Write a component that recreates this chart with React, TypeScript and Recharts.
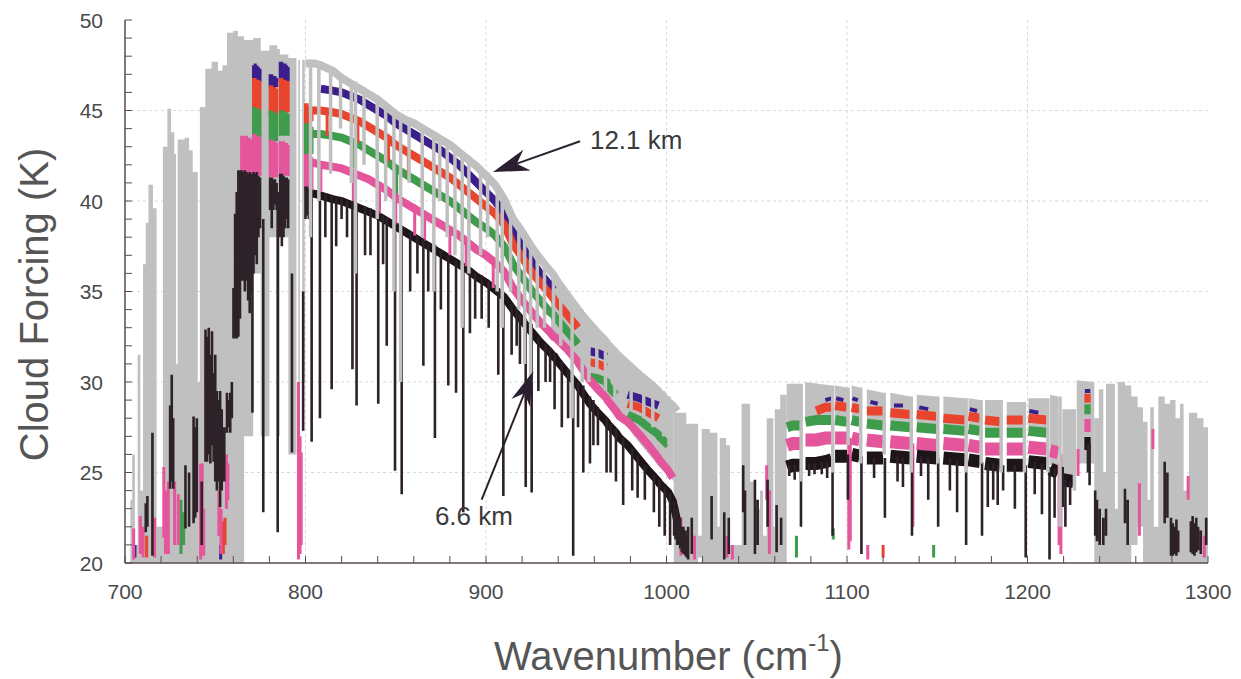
import React from "react";
import { ComposedChart, Line, Area, XAxis, YAxis, CartesianGrid, ReferenceLine, ReferenceDot } from "recharts";

type Seg = [number, number, number];
type Rng = [number, number | null, number | null];
type Row = (number | null)[];

// ---------- axis ticks ----------
const xMajorTicks = [700, 800, 900, 1000, 1100, 1200, 1300];
const xMinorTicks = [700, 720, 740, 760, 780, 800, 820, 840, 860, 880, 900, 920, 940, 960, 980, 1000, 1020, 1040, 1060, 1080, 1100, 1120, 1140, 1160, 1180, 1200, 1220, 1240, 1260, 1280, 1300];
const yMajorTicks = [20, 25, 30, 35, 40, 45, 50];
const yMinorTicks = [20, 21, 22, 23, 24, 25, 26, 27, 28, 29, 30, 31, 32, 33, 34, 35, 36, 37, 38, 39, 40, 41, 42, 43, 44, 45, 46, 47, 48, 49, 50];
const xGridValues = [800, 900, 1000, 1100, 1200];
const yGridValues = [25, 30, 35, 40, 45];

// ---------- dense gray (12.1 km) regions: [wavenumber, low, high] ----------
const grayDenseCO2: Rng[] = [
  [700, 20, 20], [703, 20, 23.5], [704, 20, 26], [705.5, 20, 21], [707, 20, 31.5], [708.5, 20, 24],
  [710, 20, 36.5], [711.5, 20, 38.8], [713, 20, 40.9], [715.5, 20, 39.6], [717.5, 20, 22],
  [721, 20, 43.0], [723.5, 20, 45.1], [725.5, 20, 43.8], [727.3, 20, 42.6], [728.3, 20, 31],
  [729.2, 20, 43.4], [733, 20, 43.5], [735.5, 20, 42.8], [737.5, 20, 41.6], [740.3, 20, 30],
  [741.5, 20, 45.2], [744.5, 20, 47.3], [748, 20, 47.7], [751.5, 20, 47.2], [754, 20, 47.5],
  [756.5, 20, 49.3], [760, 20, 49.4], [762.5, 20, 49.1], [766, 27, 48.9], [771, 36, 49.0],
  [775.2, 27, 48.3], [780, 38, 48.6], [784.3, 27, 48.4], [785.8, 38, 48.1], [790.5, 26, 47.9],
  [795, 20, 20], [796, 27, 47.8], [796.9, 20, 20], [798.2, 30, 47.8], [799.6, 20, 20],
];
const grayDenseO3: Rng[] = [
  [1004, 20, 28.3], [1011, 20, 27.7], [1017.5, 20.3, 21.5], [1019.5, 20, 27.4], [1024, 20, 27.2],
  [1028.2, 20, 22], [1029.5, 20, 26.9], [1033, 20, 26.5], [1035.2, 20, 21], [1041.6, 20, 28.8],
  [1046.3, 20, 24.5], [1049, 20, 23.0], [1051.8, 20, 24.0], [1053.5, 20, 21.5], [1055.5, 20, 28.0],
  [1059.2, 20, 22], [1060, 20, 28.5], [1063, 20, 29.3], [1066.6, 20, 20],
];
const grayDenseEdge: Rng[] = [
  [1237, 20, 28.0], [1239.5, 20, 29.6], [1242, 20, 25.0], [1243.5, 20, 29.9], [1248.5, 20, 23.0],
  [1250, 20, 30.0], [1254, 20, 29.8], [1257.5, 21, 29.2], [1261, 22, 28.6], [1264, 20, 27.8],
  [1266.5, 20, 23.5], [1268, 20, 28.6], [1270, 20, 22.0], [1272.5, 20, 29.2], [1276, 20, 28.8],
  [1279, 20, 29.0], [1282, 20, 28.0], [1284.5, 20, 28.8], [1286.5, 20, 24.0], [1289.5, 20, 28.3],
  [1294, 20, 28.0], [1297.5, 20, 27.5], [1300, 20, 27.5],
];
// gray band between gray top and coloured curves: [wavenumber, low, high]
const grayBandFill: Rng[] = [
  [936, 32.8, 36.0], [940, 32.3, 35.6], [945, 31.8, 35.0], [951, 31.1, 34.2], [957, 30.2, 33.4],
  [962, 29.6, 32.9], [967, 29.0, 32.3], [972, 28.4, 31.8], [977, 27.8, 31.3], [982, 27.0, 30.8],
  [987, 26.4, 30.4], [992, 25.8, 30.0], [996, 25.3, 29.6], [1000, 25.0, 29.2], [1004, 24.5, 28.8],
  [1004.5, null, null],
  [1066.6, 27.6, 29.9], [1074, 27.7, 29.9], [1074.3, null, null],
  [1076.8, 27.9, 30.0], [1091.5, 28.0, 29.8], [1091.8, null, null],
  [1093.4, 28.0, 29.8], [1100, 27.9, 29.7], [1100.3, null, null],
  [1102.6, 28.0, 29.8], [1107, 27.9, 29.7], [1107.3, null, null],
  [1111, 27.8, 29.6], [1120, 27.7, 29.4], [1120.3, null, null],
  [1124, 27.7, 29.4], [1135, 27.6, 29.2], [1135.3, null, null],
  [1138.6, 27.6, 29.3], [1149.7, 27.5, 29.2], [1150, null, null],
  [1153.4, 27.5, 29.2], [1165.4, 27.4, 29.1], [1165.7, null, null],
  [1167.3, 27.5, 29.1], [1173.7, 27.4, 29.0], [1174, null, null],
  [1176.5, 27.3, 29.0], [1184.8, 27.3, 29.0], [1185.1, null, null],
  [1188.5, 27.3, 28.9], [1197.7, 27.3, 28.9], [1198, null, null],
  [1200.5, 27.4, 29.1], [1210.7, 27.3, 29.1], [1211, null, null],
  [1212.5, 25.4, 29.3], [1217, 25.4, 29.2], [1217.3, null, null],
  [1219.3, 24.8, 28.5], [1225.5, 24.8, 28.5], [1225.8, null, null],
  [1227.3, 25.5, 30.1], [1237, 25.5, 30.0],
];

// ---------- window 800-1006: [wavenumber, gray, blue, red, green, pink, black] ----------
const bandsWindow1: Row[] = [
  [800, 47.6, null, 45.0, 43.7, 42.1, 40.4],
  [805, 47.6, null, 45.0, 43.7, 42.1, 40.4],
  [808.5, 47.5, 46.2, 45.0, 43.7, 42.0, 40.3],
  [815, 47.2, 46.1, 44.9, 43.6, 41.9, 40.1],
  [820, 46.8, 46.0, 44.8, 43.5, 41.8, 40.0],
  [825, 46.5, 45.8, 44.6, 43.3, 41.6, 39.8],
  [830, 46.2, 45.6, 44.4, 43.1, 41.4, 39.6],
  [835, 45.9, 45.3, 44.1, 42.8, 41.2, 39.4],
  [840, 45.6, 45.0, 43.8, 42.5, 40.9, 39.2],
  [845, 45.2, 44.7, 43.5, 42.2, 40.6, 38.9],
  [850, 44.8, 44.3, 43.1, 41.8, 40.2, 38.6],
  [855, 44.5, 44.0, 42.8, 41.5, 39.9, 38.3],
  [860, 44.3, 43.7, 42.5, 41.2, 39.6, 38.0],
  [865, 44.0, 43.4, 42.2, 40.9, 39.3, 37.7],
  [870, 43.7, 43.1, 41.9, 40.6, 39.0, 37.4],
  [875, 43.4, 42.8, 41.6, 40.3, 38.7, 37.1],
  [880, 43.1, 42.4, 41.3, 40.0, 38.4, 36.8],
  [885, 42.7, 42.0, 40.9, 39.6, 38.1, 36.5],
  [890, 42.3, 41.5, 40.5, 39.2, 37.7, 36.2],
  [895, 41.9, 41.0, 40.1, 38.8, 37.3, 35.8],
  [900, 41.4, 40.5, 39.7, 38.5, 37.0, 35.5],
  [905, 40.9, 40.0, 39.3, 38.1, 36.6, 35.1],
  [910, 40.1, 39.3, 38.7, 37.5, 36.1, 34.7],
  [915, 39.0, 38.3, 37.6, 36.5, 35.2, 34.0],
  [920, 38.3, 37.5, 36.9, 35.8, 34.5, 33.4],
  [925, 37.5, 36.7, 36.1, 35.1, 33.9, 32.8],
  [930, 36.8, 36.0, 35.5, 34.5, 33.3, 32.2],
  [935, 36.2, 35.4, 34.9, 33.9, 32.8, 31.7],
  [937.5, 35.9, 35.1, 34.6, 33.7, 32.5, 31.4],
  [938, 35.8, null, 34.5, 33.6, 32.5, 31.4],
  [940, 35.5, null, 34.3, 33.4, 32.3, 31.1],
  [945, 34.8, null, 33.7, 32.8, 31.8, 30.5],
  [951, 34.0, null, 33.0, 32.1, 31.1, 29.8],
  [951.5, 33.9, null, null, null, 31.0, 29.7],
  [957.6, 33.2, 31.7, 31.1, 30.3, 30.1, 28.8],
  [962, 32.7, 31.6, 31.0, 30.2, 29.6, 28.3],
  [966.8, 32.2, 31.4, 30.8, 30.0, 29.1, 27.8],
  [967.3, 32.1, null, null, 29.8, 29.0, 27.7],
  [972, 31.6, null, null, 29.3, 28.4, 27.2],
  [974, 31.4, null, null, null, 28.1, 26.9],
  [978.5, 31.0, 29.3, 28.8, 28.2, 27.8, 26.5],
  [985, 30.4, 29.1, 28.6, 27.9, 27.1, 25.7],
  [990, 30.0, 28.9, 28.3, 27.5, 26.5, 25.1],
  [995.5, 29.5, 28.7, 28.0, 27.1, 25.8, 24.5],
  [996, 29.4, null, null, 27.0, 25.7, 24.4],
  [1001, 28.9, null, null, 26.5, 25.1, 23.9],
  [1003.5, 28.7, null, null, null, 24.7, 23.4],
  [1006, 28.4, null, null, null, null, 22.3],
];

// ---------- window 1066-1236: [wavenumber, red, green, pink, black] ----------
const bandsWindow2: Row[] = [
  [1066.8, null, 27.5, 26.5, 25.3], [1070, null, 27.6, 26.6, 25.4], [1074, null, 27.6, 26.6, 25.4],
  [1074.3, null, null, null, null],
  [1077, null, 27.8, 26.8, 25.5], [1083, 28.4, 27.9, 26.8, 25.5], [1088, 28.6, 27.9, 26.9, 25.6], [1091.5, 28.6, 27.9, 26.9, 25.7],
  [1091.8, null, null, null, null],
  [1093.4, 28.7, 27.9, 26.9, 25.9], [1100, 28.6, 27.8, 26.9, 25.9],
  [1100.3, null, null, null, null],
  [1102.6, 28.6, 27.9, 26.9, 26.0], [1107, 28.5, 27.8, 26.8, 25.9],
  [1107.3, null, null, null, null],
  [1111, 28.4, 27.7, 26.8, 25.8], [1120, 28.4, 27.6, 26.7, 25.8],
  [1120.3, null, null, null, null],
  [1124, 28.3, 27.6, 26.7, 25.9], [1135, 28.2, 27.5, 26.6, 25.8],
  [1135.3, null, null, null, null],
  [1138.6, 28.2, 27.5, 26.6, 25.9], [1149.7, 28.1, 27.4, 26.5, 25.8],
  [1150, null, null, null, null],
  [1153.4, 28.0, 27.4, 26.6, 25.8], [1165.4, 27.9, 27.3, 26.5, 25.7],
  [1165.7, null, null, null, null],
  [1167.3, 28.1, 27.4, 26.5, 25.7], [1173.7, 28.0, 27.3, 26.4, 25.6],
  [1174, null, null, null, null],
  [1176.5, 27.9, 27.2, 26.3, 25.5], [1184.8, 27.8, 27.2, 26.3, 25.4],
  [1185.1, null, null, null, null],
  [1188.5, 27.9, 27.2, 26.3, 25.4], [1197.7, 27.9, 27.2, 26.3, 25.4],
  [1198, null, null, null, null],
  [1200.5, 28.0, 27.3, 26.4, 25.6], [1210.7, 27.9, 27.2, 26.3, 25.5],
  [1211, null, null, null, null],
  [1212.5, null, null, 26.2, 25.2], [1217, null, null, 26.1, 25.0],
  [1217.3, null, null, null, null],
  [1219.5, null, null, null, 24.6], [1225.5, null, null, null, 24.5],
  [1225.8, null, null, null, null],
  [1231.5, 29.1, 28.5, 27.6, 26.6], [1235, 29.1, 28.5, 27.6, 26.6],
];
// sparse blue (12.1 km neighbour) specks in window 2: [wavenumber, value]
const blueWindow2: Row[] = [
  [1088, 29.0], [1091.3, 29.1], [1091.6, null],
  [1094, 29.1], [1098, 29.0], [1098.3, null],
  [1103, 29.1], [1106, 29.0], [1106.3, null],
  [1113, 28.9], [1117, 28.8], [1117.3, null],
  [1126, 28.7], [1131, 28.7], [1131.3, null],
  [1140, 28.6], [1145, 28.5], [1145.3, null],
  [1168, 28.5], [1172, 28.4], [1172.3, null],
  [1201, 28.4], [1206, 28.3], [1206.3, null],
  [1231.8, 29.5], [1234.8, 29.5],
];

// ---------- vertical absorption-line strokes: [wavenumber, top, bottom] ----------
const blueLines: Seg[] = [
  [705.5, 21.0, 20.3], [753.0, 21.0, 20.2],
  [771.2, 47.5, 46.6], [772.1, 47.6, 46.6], [773.0, 47.5, 46.6], [773.9, 47.4, 46.6], [774.8, 47.3, 46.6],
  [780.4, 47.0, 46.3], [781.3, 47.0, 46.3], [782.2, 46.9, 46.3], [783.1, 46.9, 46.3], [784.0, 46.8, 46.3],
  [786.0, 47.7, 46.6], [786.9, 47.7, 46.6], [787.8, 47.6, 46.6], [788.7, 47.6, 46.6], [789.6, 47.5, 46.6], [790.4, 47.4, 46.6],
];
const redLines: Seg[] = [
  [712.0, 21.5, 20.3], [754.5, 22.3, 20.5], [755.4, 22.5, 21.0],
  [771.2, 46.8, 45.0], [772.1, 46.8, 45.0], [773.0, 46.7, 45.0], [773.9, 46.7, 45.0], [774.8, 46.6, 45.0],
  [780.4, 46.4, 44.8], [781.3, 46.4, 44.8], [782.2, 46.3, 44.8], [783.1, 46.3, 44.8], [784.0, 46.2, 44.8],
  [786.0, 46.8, 44.9], [786.9, 46.8, 44.9], [787.8, 46.7, 44.9], [788.7, 46.7, 44.9], [789.6, 46.6, 44.9], [790.4, 46.6, 44.9],
  [800.0, 45.4, 44.2], [800.9, 45.4, 44.2], [801.8, 45.3, 44.2], [802.7, 45.3, 44.3], [803.6, 45.2, 44.4],
  [812.0, 45.0, 43.6], [829.0, 44.5, 43.2], [846.0, 43.6, 42.2], [857.0, 42.8, 41.4],
  [1120.0, 21.0, 20.3],
];
const greenLines: Seg[] = [
  [709.8, 21.5, 20.5], [731.0, 23.5, 20.5], [732.5, 22.8, 21.0],
  [771.2, 45.2, 43.5], [772.1, 45.2, 43.5], [773.0, 45.1, 43.5], [773.9, 45.1, 43.5], [774.8, 45.0, 43.5],
  [780.4, 45.0, 43.3], [781.3, 45.0, 43.3], [782.2, 44.9, 43.3], [783.1, 44.9, 43.3], [784.0, 44.8, 43.3],
  [786.0, 45.0, 43.6], [786.9, 45.0, 43.6], [787.8, 45.0, 43.6], [788.7, 44.9, 43.6], [789.6, 44.9, 43.6], [790.4, 44.8, 43.6],
  [800.0, 44.3, 42.5], [800.9, 44.3, 42.5], [801.8, 44.2, 42.5], [802.7, 44.2, 42.6], [803.6, 44.1, 42.6],
  [826.0, 43.4, 41.8], [850.5, 41.9, 40.4],
  [1072.0, 21.5, 20.3], [1092.4, 21.9, 21.3], [1148.0, 21.0, 20.3],
];
const pinkLines: Seg[] = [
  [704.8, 21.9, 20.2], [708.5, 22.6, 20.5], [710.0, 22.0, 20.3], [716.4, 22.5, 20.3], [721.5, 25.3, 21.4],
  [722.4, 24.0, 20.5], [724.0, 24.5, 20.5], [727.5, 24.5, 21.0], [729.5, 23.8, 21.0], [741.9, 25.5, 20.2],
  [742.8, 25.5, 21.5], [743.6, 23.0, 20.4], [752.0, 24.0, 21.5], [753.2, 23.0, 20.5], [756.2, 26.0, 23.0], [757.0, 25.5, 23.5],
  [764.6, 43.6, 41.0], [765.5, 43.6, 41.0], [766.4, 43.5, 41.0], [767.3, 43.6, 41.0], [768.2, 43.5, 41.0], [769.1, 43.5, 41.0], [770.0, 43.4, 41.0],
  [771.2, 43.7, 41.4], [772.1, 43.7, 41.4], [773.0, 43.6, 41.4], [773.9, 43.6, 41.4], [774.8, 43.5, 41.4],
  [780.4, 43.4, 41.3], [781.3, 43.4, 41.3], [782.2, 43.3, 41.3], [783.1, 43.3, 41.3], [784.0, 43.2, 41.3],
  [786.0, 43.3, 41.4], [786.9, 43.3, 41.4], [787.8, 43.3, 41.4], [788.7, 43.2, 41.4], [789.6, 43.2, 41.4], [790.4, 43.1, 41.4],
  [796.1, 30.0, 20.2], [797.0, 27.0, 20.5], [797.6, 26.1, 21.0],
  [800.0, 42.6, 40.6], [800.9, 42.6, 40.6], [801.8, 42.5, 40.6], [802.7, 42.5, 40.6], [803.6, 42.4, 40.6],
  [808.5, 42.1, 40.5], [826.5, 41.7, 40.0], [841.0, 41.0, 39.3], [850.0, 40.4, 38.7], [860.5, 39.8, 38.1],
  [866.0, 39.4, 37.8], [880.0, 38.6, 37.0], [889.0, 38.0, 36.4], [904.0, 36.8, 35.2],
  [1008.0, 22.5, 20.4], [1015.5, 21.5, 20.2], [1033.5, 21.5, 20.3], [1036.5, 21.0, 20.2], [1055.5, 25.4, 23.5], [1057.0, 24.0, 20.5],
  [1101.0, 26.9, 20.75], [1101.8, 26.9, 21.2], [1111.5, 21.0, 20.2], [1136.5, 26.6, 22.0], [1217.5, 25.5, 21.0], [1218.5, 26.0, 20.5], [1228.0, 26.3, 24.8],
  [1262.0, 24.4, 21.5], [1269.5, 27.4, 26.3], [1289.0, 24.8, 23.5], [1298.0, 21.5, 20.3],
];
const blackLinesCO2: Seg[] = [
  [711.5, 23.3, 21.7], [712.4, 23.7, 22.0], [715.2, 27.2, 20.4], [725.0, 28.7, 24.1], [725.9, 30.4, 24.5],
  [726.7, 28.0, 24.1], [733.5, 25.4, 21.9], [735.5, 25.0, 22.0], [738.0, 28.1, 22.2], [738.9, 27.5, 22.5],
  [739.8, 28.0, 22.8], [742.5, 24.5, 21.0],
  [744.6, 32.9, 25.6], [745.5, 32.5, 25.6], [746.4, 33.0, 26.0], [747.3, 31.5, 25.5], [748.2, 32.8, 26.5],
  [749.1, 30.5, 25.6], [750.0, 31.5, 24.5], [750.9, 29.5, 24.0], [751.8, 29.0, 24.5], [752.7, 29.5, 23.1],
  [753.6, 28.5, 24.0], [755.0, 27.5, 24.5], [756.5, 29.4, 27.2], [757.4, 29.0, 27.5], [758.3, 29.4, 27.2],
  [759.2, 30.0, 28.0], [760.1, 35.2, 32.4], [761.0, 39.3, 32.4], [761.9, 40.5, 32.4], [762.8, 41.7, 32.5],
  [763.7, 41.7, 33.5], [764.6, 41.7, 35.6], [765.5, 41.6, 35.6], [766.4, 41.7, 35.0], [767.3, 41.6, 35.6],
  [768.2, 41.5, 34.5], [769.1, 41.6, 33.8], [770.0, 41.5, 35.0], [770.6, 37.0, 28.3],
  [771.2, 41.6, 36.0], [772.1, 41.5, 37.0], [773.0, 41.6, 36.5], [773.9, 41.4, 38.0], [774.8, 41.3, 38.5],
  [776.6, 39.0, 22.8],
  [780.4, 41.3, 39.5], [781.3, 41.3, 38.5], [782.2, 41.2, 39.5], [783.1, 41.2, 39.8], [784.0, 41.0, 39.5],
  [784.6, 40.5, 21.7],
  [786.0, 41.5, 38.0], [786.9, 41.5, 37.5], [787.8, 41.4, 38.0], [788.7, 41.3, 38.5], [789.6, 41.3, 39.0], [790.4, 41.2, 38.5],
  [792.5, 36.0, 26.1], [798.7, 35.0, 27.3],
  [800.0, 40.8, 39.0], [800.9, 40.8, 39.2], [801.8, 40.7, 39.0], [802.7, 40.7, 39.2],
];
const blackLinesWindow1: Seg[] = [
  [803.4, 40.6, 26.7], [808.0, 40.5, 28.0], [811.0, 40.4, 38.0], [814.5, 40.3, 29.6], [817.0, 40.2, 37.5],
  [820.0, 40.2, 39.0], [823.0, 40.0, 38.0], [826.0, 40.0, 30.7], [828.3, 39.9, 28.7], [833.0, 39.7, 37.0],
  [836.0, 39.6, 37.0], [840.3, 39.4, 28.8], [843.0, 39.2, 36.5], [845.0, 39.1, 32.0], [849.6, 38.8, 25.1],
  [853.3, 38.6, 23.8], [858.0, 38.3, 35.0], [862.0, 38.1, 36.0], [865.3, 37.9, 30.9], [868.0, 37.7, 35.0],
  [871.7, 37.6, 26.9], [875.0, 37.3, 34.0], [879.1, 37.0, 29.8], [883.4, 36.7, 29.4], [887.4, 36.4, 22.8],
  [891.1, 36.1, 32.7], [894.0, 36.0, 33.5], [897.6, 35.9, 33.5], [901.5, 35.6, 33.0], [906.8, 35.2, 30.4],
  [909.6, 34.9, 23.7], [914.2, 34.3, 31.5], [917.0, 34.1, 32.0], [918.8, 33.8, 31.0], [922.0, 33.5, 24.2],
  [925.3, 33.2, 23.9], [929.0, 32.5, 29.5], [933.0, 32.1, 30.0], [935.5, 31.9, 30.0], [938.0, 31.6, 28.5],
  [942.0, 31.1, 27.5], [945.5, 30.7, 28.0], [948.3, 30.3, 20.4], [951.0, 30.0, 27.5], [953.9, 29.8, 25.0],
  [957.6, 29.2, 25.5], [959.5, 29.0, 26.5], [962.0, 28.6, 26.5], [966.8, 28.0, 25.0], [969.0, 27.7, 25.0],
  [972.0, 27.4, 24.5], [976.0, 26.9, 23.2], [981.0, 26.3, 24.0], [984.0, 25.9, 23.6], [988.0, 25.4, 23.5],
  [993.0, 24.9, 22.8], [996.0, 24.6, 22.0], [999.0, 24.2, 21.5], [1002.0, 23.8, 21.0],
];
const blackLinesO3: Seg[] = [
  [1004.2, 23.4, 21.5], [1005.0, 22.6, 21.3], [1005.9, 23.0, 21.0], [1006.8, 22.3, 21.0], [1007.6, 22.5, 20.8],
  [1008.5, 22.0, 20.6], [1009.4, 22.0, 20.5], [1010.5, 21.8, 20.4], [1011.2, 21.5, 20.3], [1012.0, 22.0, 20.2],
  [1014.0, 22.5, 20.5], [1025.0, 23.7, 21.3], [1032.0, 22.8, 20.2], [1034.5, 22.5, 20.5], [1042.5, 25.4, 22.8],
  [1043.5, 24.0, 21.0], [1049.0, 24.6, 20.5], [1050.5, 23.5, 21.0], [1056.0, 24.6, 22.0], [1061.0, 23.2, 20.6],
  [1063.5, 22.5, 21.0],
];
const blackLinesWindow2: Seg[] = [
  [1068.0, 25.4, 24.8], [1071.0, 25.4, 24.6], [1074.5, 25.4, 22.0], [1079.0, 25.5, 24.8], [1082.0, 25.5, 24.9],
  [1086.0, 25.6, 24.9], [1089.0, 25.6, 24.7], [1092.0, 25.7, 21.5], [1100.5, 26.0, 23.5], [1108.0, 25.9, 20.5],
  [1115.0, 25.8, 24.7], [1121.0, 25.8, 22.5], [1128.0, 25.9, 24.5], [1131.0, 25.8, 24.2], [1136.0, 25.8, 21.5],
  [1141.0, 25.9, 24.8], [1145.0, 25.8, 23.5], [1150.5, 25.8, 22.0], [1157.0, 25.8, 24.0], [1161.0, 25.7, 22.8],
  [1166.0, 25.7, 21.0], [1174.8, 25.6, 21.5], [1178.0, 25.5, 23.1], [1181.0, 25.5, 23.5], [1183.5, 25.4, 23.2],
  [1186.5, 25.4, 24.0], [1193.0, 25.4, 23.0], [1199.0, 25.4, 20.3], [1204.0, 25.6, 23.8], [1208.0, 25.5, 22.7],
  [1212.2, 25.3, 20.2], [1215.0, 25.2, 22.5], [1219.5, 25.3, 23.1], [1221.0, 24.6, 22.0], [1223.6, 24.5, 23.2],
  [1233.5, 26.6, 25.0], [1234.4, 26.6, 24.3],
];
const blackLinesEdge: Seg[] = [
  [1237.5, 24.0, 21.5], [1238.5, 23.5, 21.2], [1240.0, 23.0, 21.0], [1242.0, 22.5, 21.0], [1243.5, 23.0, 21.5],
  [1254.0, 24.1, 22.2], [1255.5, 23.5, 21.0], [1276.0, 25.6, 22.2], [1277.5, 25.0, 22.5], [1279.5, 22.5, 20.4],
  [1280.5, 22.2, 20.4], [1281.5, 22.0, 20.5], [1282.5, 22.4, 20.4], [1283.5, 21.8, 20.6], [1290.5, 22.3, 20.6],
  [1291.5, 22.6, 20.5], [1292.5, 22.2, 20.4], [1293.5, 22.5, 20.6], [1294.5, 22.0, 20.7], [1296.0, 21.8, 20.5],
  [1299.0, 22.5, 21.0],
];
const grayLines: Seg[] = [
  [802.8, 47.8, 38.0], [807.4, 47.7, 40.0], [813.9, 47.4, 41.5], [819.4, 47.0, 44.0], [825.4, 46.7, 41.0],
  [827.7, 46.6, 36.0], [832.4, 46.3, 42.0], [839.7, 45.8, 39.0], [844.4, 45.4, 40.0], [849.0, 45.0, 35.0],
  [852.7, 44.8, 30.0], [857.4, 44.6, 41.0], [864.7, 44.2, 38.0], [871.1, 43.8, 35.0], [874.4, 43.6, 40.0],
  [878.5, 43.3, 38.0], [882.8, 43.0, 37.0], [886.8, 42.6, 33.0], [890.5, 42.5, 36.0], [897.0, 41.9, 37.0],
  [900.9, 41.6, 38.0], [906.2, 41.0, 35.0], [909.0, 40.5, 33.0], [913.6, 39.5, 35.0], [918.2, 38.7, 34.0],
  [921.4, 38.3, 31.0], [924.7, 37.8, 30.0], [928.4, 37.2, 33.0], [932.4, 36.7, 33.0], [937.4, 36.1, 33.0],
  [941.4, 35.5, 32.0], [947.7, 34.6, 28.0], [953.3, 34.0, 30.0], [957.0, 33.5, 30.0], [961.4, 33.0, 30.5],
  [966.2, 32.5, 29.5], [971.4, 31.9, 29.0], [975.4, 31.5, 28.5], [980.4, 31.0, 28.5], [987.4, 30.4, 28.0],
  [992.4, 30.0, 27.5], [998.4, 29.5, 27.0], [1001.4, 29.2, 26.5],
  [1074.6, 29.9, 24.5], [1092.1, 29.8, 25.0], [1100.6, 29.7, 26.5], [1107.6, 29.7, 25.5], [1120.6, 29.4, 26.0],
  [1135.6, 29.2, 25.0], [1150.3, 29.2, 25.5], [1166.0, 29.1, 25.0], [1174.3, 29.0, 25.5], [1185.4, 29.0, 25.0],
  [1198.3, 28.9, 25.0], [1211.3, 29.1, 25.0], [1218.0, 29.2, 22.0], [1226.0, 28.5, 24.0],
];

// ---------- annotations ----------
const arrowHigh = { from: [952.1, 43.3], to: [903.9, 41.6], text: "12.1 km", textAt: [957.6, 42.9] };
const arrowLow = { from: [897.6, 23.5], to: [926.2, 30.6], text: "6.6 km", textAt: [871.7, 22.1] };

// ---------- styling ----------
const FONT = '"Liberation Sans", Arial, Helvetica, sans-serif';
const AXIS = "#5a4a50";
const TEXT = "#4a4a4a";
const GRAY = "#c0c0c0";
const BLUE = "#3b1e8c";
const RED = "#e8442e";
const GREEN = "#3f9c4c";
const PINK = "#e4559c";
const BLACK = "#1e1519";
const BLACK_LINE = "#2c2227";

// ---------- builders ----------
const col = (rows: Row[], i: number) => rows.map((r) => ({ x: r[0] as number, y: r[i] }));
const segPoints = (segs: Seg[]) =>
  segs.flatMap(([x, top, bottom]) => [{ x, y: top as number | null }, { x, y: bottom as number | null }, { x, y: null as number | null }]);
const rangePoints = (rows: Rng[]) =>
  rows.map(([x, lo, hi]) => ({ x, r: lo == null || hi == null ? null : [lo, hi] }));

const grayDenseData = rangePoints([...grayDenseCO2, ...grayDenseO3, ...grayDenseEdge]);
const grayBandData = rangePoints(grayBandFill);

const BottomTick = (props: any) => {
  const { x, y, payload } = props;
  if (!xMajorTicks.includes(payload.value)) return <g />;
  return (
    <text x={x} y={y + 43} textAnchor="middle" fontSize={21} fill={TEXT} fontFamily={FONT}>
      {payload.value}
    </text>
  );
};
const LeftTick = (props: any) => {
  const { x, y, payload } = props;
  if (!yMajorTicks.includes(payload.value)) return <g />;
  return (
    <text x={x - 29} y={y} dy="0.36em" textAnchor="end" fontSize={21} fill={TEXT} fontFamily={FONT}>
      {payload.value}
    </text>
  );
};
const XTitle = (props: any) => {
  const vb = props.viewBox || { x: 125, y: 563, width: 1083, height: 116 };
  const cx = vb.x + vb.width / 2 + 2;
  const by = vb.y + 107;
  return (
    <text x={cx} y={by} textAnchor="middle" fontSize={40} fill="#555" fontFamily={FONT}>
      <tspan>Wavenumber (cm</tspan>
      <tspan fontSize={24} dy={-19}>-1</tspan>
      <tspan dy={19}>)</tspan>
    </text>
  );
};
const YTitle = (props: any) => {
  const vb = props.viewBox || { x: 0, y: 20, width: 125, height: 543 };
  const x = vb.x + 48;
  const y = vb.y + vb.height / 2 + 13;
  return (
    <text x={x} y={y} transform={`rotate(-90, ${x}, ${y})`} textAnchor="middle" fontSize={40} fill="#555" fontFamily={FONT}>
      Cloud Forcing (K)
    </text>
  );
};
const arrowShape = (len: number, half: number) => (p: any) => {
  const { x1, y1, x2, y2 } = p;
  const dx = x2 - x1;
  const dy = y2 - y1;
  const d = Math.hypot(dx, dy) || 1;
  const ux = dx / d;
  const uy = dy / d;
  const nx = -uy;
  const ny = ux;
  const bx = x2 - ux * len;
  const by = y2 - uy * len;
  const mx = x2 - ux * len * 0.7;
  const my = y2 - uy * len * 0.7;
  return (
    <g>
      <line x1={x1} y1={y1} x2={mx} y2={my} stroke="#2a2030" strokeWidth={2} />
      <polygon points={`${x2},${y2} ${bx + nx * half},${by + ny * half} ${mx},${my} ${bx - nx * half},${by - ny * half}`} fill="#2a2030" />
    </g>
  );
};
const textShape = (label: string) => (p: any) => (
  <text x={p.cx} y={p.cy} fontSize={26} fill="#3a3a3a" fontFamily={FONT}>
    {label}
  </text>
);

const lineCommon = { xAxisId: "x", yAxisId: "y", dot: false, activeDot: false, isAnimationActive: false, legendType: "none" as const };

export default function App() {
  const w1 = (i: number) => col(bandsWindow1, i);
  const w2 = (i: number) => col(bandsWindow2, i);
  return (
    <div style={{ position: "absolute", left: 0, top: 0, width: 1241, height: 679, background: "#ffffff" }}>
      <ComposedChart width={1241} height={679} margin={{ top: 20, right: 33, bottom: 0, left: 0 }}>
        <CartesianGrid xAxisId="x" yAxisId="y" horizontalValues={yGridValues} verticalValues={xGridValues} stroke="#d8d8d8" strokeDasharray="3 3" />
        <XAxis xAxisId="x" dataKey="x" type="number" domain={[700, 1300]} allowDataOverflow ticks={xMinorTicks} interval={0}
          height={116} tickSize={-7} tickMargin={0} tick={BottomTick} tickLine={{ stroke: AXIS, strokeWidth: 1 }}
          axisLine={{ stroke: AXIS, strokeWidth: 1.5 }} label={XTitle} />
        <XAxis xAxisId="top" orientation="top" dataKey="x" type="number" domain={[700, 1300]} allowDataOverflow ticks={xMinorTicks} interval={0}
          height={0} tickSize={-7} tick={false} tickLine={{ stroke: AXIS, strokeWidth: 1 }} axisLine={{ stroke: AXIS, strokeWidth: 1.5 }} />
        <YAxis yAxisId="y" type="number" domain={[20, 50]} allowDataOverflow ticks={yMinorTicks} interval={0}
          width={125} tickSize={-7} tickMargin={0} tick={LeftTick} tickLine={{ stroke: AXIS, strokeWidth: 1 }}
          axisLine={{ stroke: AXIS, strokeWidth: 1.5 }} label={YTitle} />
        <YAxis yAxisId="right" orientation="right" type="number" domain={[20, 50]} allowDataOverflow ticks={yMinorTicks} interval={0}
          width={0} tickSize={-7} tick={false} tickLine={{ stroke: AXIS, strokeWidth: 1 }} axisLine={{ stroke: AXIS, strokeWidth: 1.5 }} />

        <Area {...lineCommon} data={grayDenseData} dataKey="r" type="stepAfter" fill={GRAY} fillOpacity={1} stroke="none" />
        <Area {...lineCommon} data={grayBandData} dataKey="r" type="linear" fill={GRAY} fillOpacity={1} stroke="none" />

        <Line {...lineCommon} data={w1(2)} dataKey="y" stroke={BLUE} strokeWidth={8} />
        <Line {...lineCommon} data={w1(3)} dataKey="y" stroke={RED} strokeWidth={8} />
        <Line {...lineCommon} data={w1(4)} dataKey="y" stroke={GREEN} strokeWidth={8} />
        <Line {...lineCommon} data={w1(5)} dataKey="y" stroke={PINK} strokeWidth={8} />
        <Line {...lineCommon} data={w1(6)} dataKey="y" stroke={BLACK} strokeWidth={8} />

        <Line {...lineCommon} data={col(blueWindow2, 1)} dataKey="y" stroke={BLUE} strokeWidth={4} />
        <Line {...lineCommon} data={w2(1)} dataKey="y" stroke={RED} strokeWidth={9} />
        <Line {...lineCommon} data={w2(2)} dataKey="y" stroke={GREEN} strokeWidth={10} />
        <Line {...lineCommon} data={w2(3)} dataKey="y" stroke={PINK} strokeWidth={13} />
        <Line {...lineCommon} data={w2(4)} dataKey="y" stroke={BLACK} strokeWidth={13} />

        <Line {...lineCommon} data={segPoints(blueLines)} dataKey="y" stroke={BLUE} strokeWidth={3} />
        <Line {...lineCommon} data={segPoints(redLines)} dataKey="y" stroke={RED} strokeWidth={3} />
        <Line {...lineCommon} data={segPoints(greenLines)} dataKey="y" stroke={GREEN} strokeWidth={3} />
        <Line {...lineCommon} data={segPoints(pinkLines)} dataKey="y" stroke={PINK} strokeWidth={3} />
        <Line {...lineCommon} data={segPoints([...blackLinesCO2, ...blackLinesWindow1, ...blackLinesO3, ...blackLinesWindow2, ...blackLinesEdge])} dataKey="y" stroke={BLACK_LINE} strokeWidth={2.6} />

        <Line {...lineCommon} data={w1(1)} dataKey="y" stroke={GRAY} strokeWidth={8} />
        <Line {...lineCommon} data={segPoints(grayLines)} dataKey="y" stroke={GRAY} strokeWidth={3.5} />

        <ReferenceLine xAxisId="x" yAxisId="y" segment={[{ x: arrowHigh.from[0], y: arrowHigh.from[1] }, { x: arrowHigh.to[0], y: arrowHigh.to[1] }]} shape={arrowShape(36, 11)} />
        <ReferenceLine xAxisId="x" yAxisId="y" segment={[{ x: arrowLow.from[0], y: arrowLow.from[1] }, { x: arrowLow.to[0], y: arrowLow.to[1] }]} shape={arrowShape(34, 10)} />
        <ReferenceDot xAxisId="x" yAxisId="y" x={arrowHigh.textAt[0]} y={arrowHigh.textAt[1]} r={0} shape={textShape(arrowHigh.text)} />
        <ReferenceDot xAxisId="x" yAxisId="y" x={arrowLow.textAt[0]} y={arrowLow.textAt[1]} r={0} shape={textShape(arrowLow.text)} />
      </ComposedChart>
    </div>
  );
}
